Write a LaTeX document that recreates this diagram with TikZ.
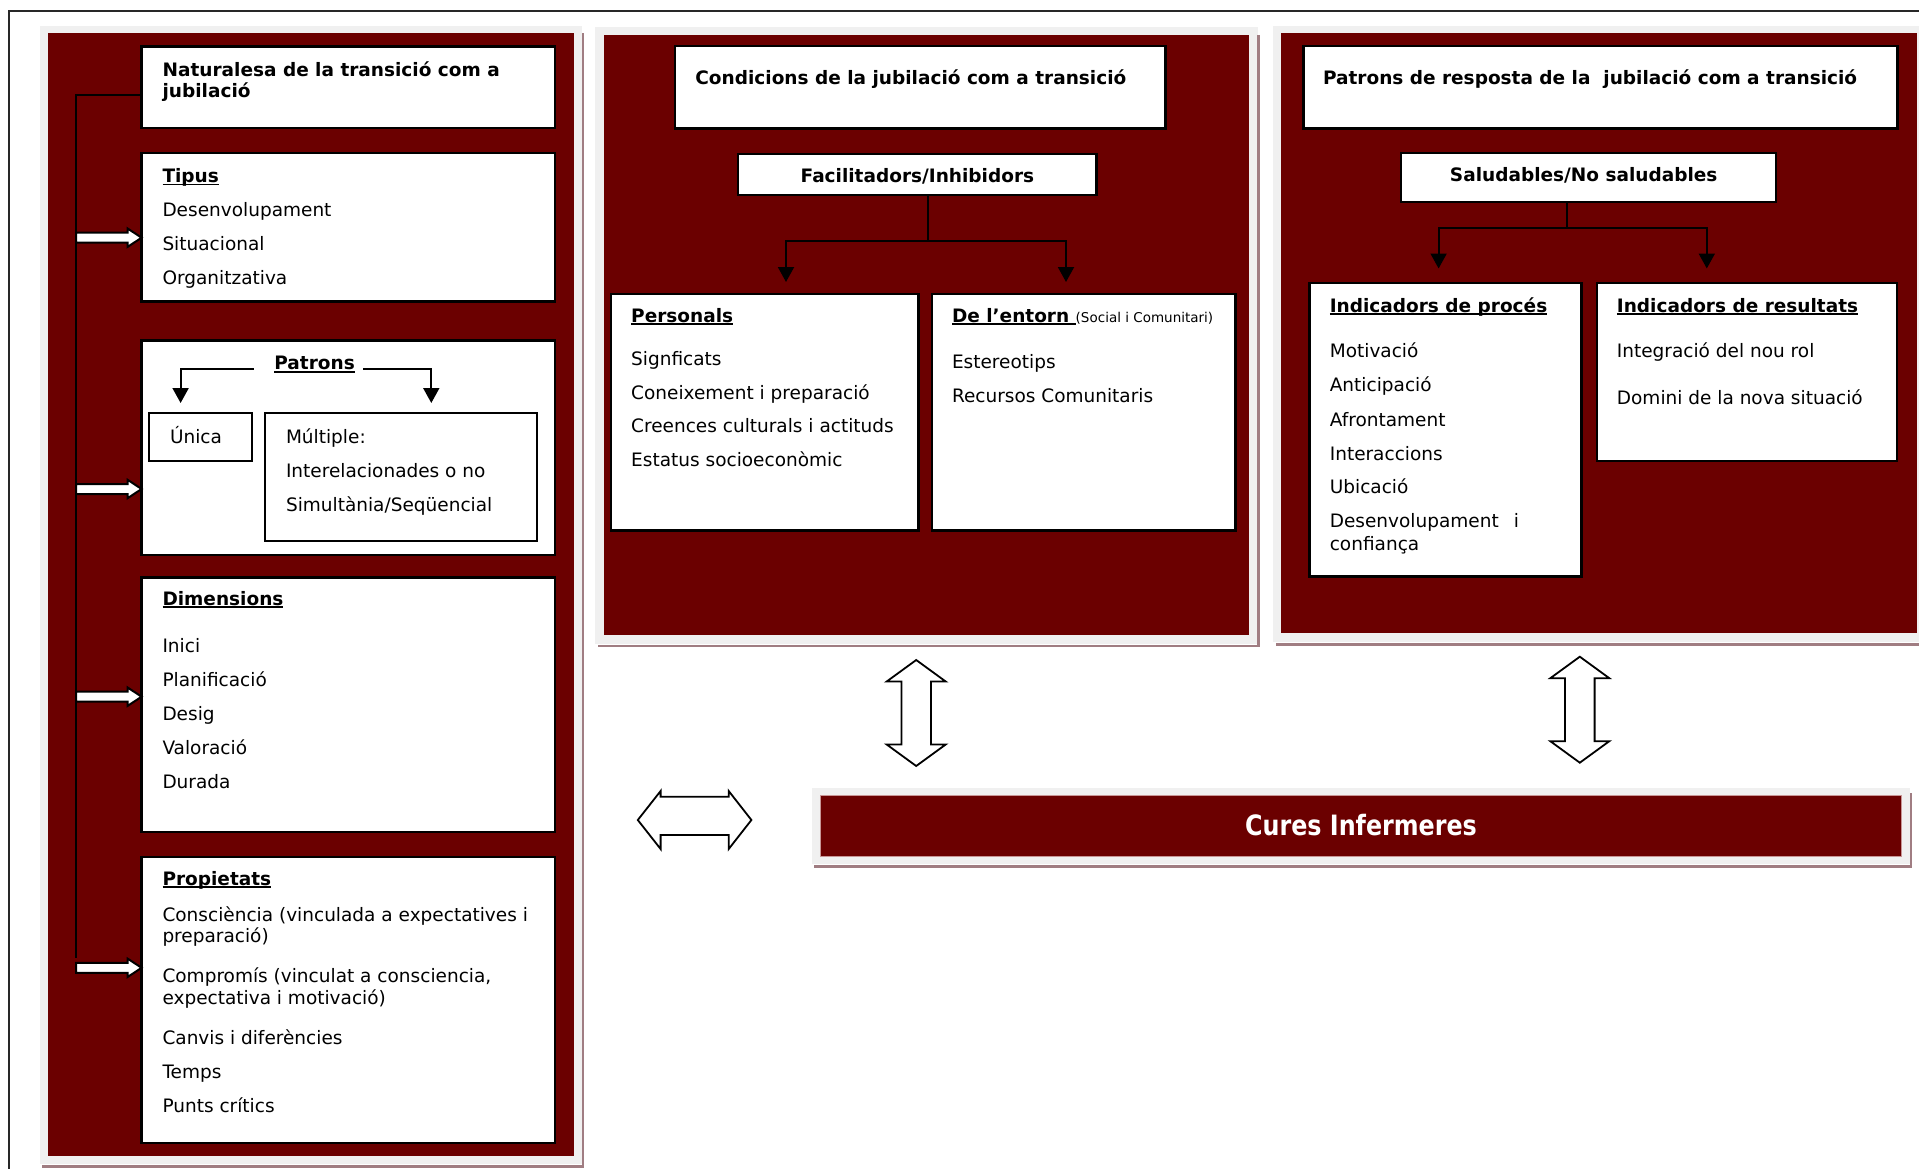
\documentclass[tikz,border=0pt]{standalone}
\usepackage{fontspec}
\setmainfont{DejaVu Sans}
\usetikzlibrary{arrows.meta,calc}
\definecolor{panelred}{RGB}{107,0,0}
\definecolor{panelgray}{RGB}{240,240,240}
\definecolor{shadowc}{RGB}{160,125,130}
\definecolor{framec}{RGB}{40,40,40}
\definecolor{curesedge}{RGB}{200,150,150}
\newsavebox\ulbox
\newcommand\hul[1]{\sbox\ulbox{#1}\rlap{\rule[-3pt]{\wd\ulbox}{1.8pt}}\usebox\ulbox}
\newcommand\hd[1]{\textbf{\hul{#1}}}
\tikzset{
  box/.style={draw=black, fill=white, line width=2.4pt, inner sep=0pt, outer sep=0pt, anchor=north west},
  txt/.style={anchor=base west, inner sep=0pt, outer sep=0pt, font=\fontsize{18.5}{22}\selectfont},
  btxt/.style={txt, font=\fontsize{18.5}{22}\selectfont\bfseries},
  conn/.style={draw=black, line width=2pt},
  arr/.style={conn, -{Triangle[width=16pt,length=15pt]}},
  hollow/.style={draw=black, fill=white, line width=2pt, line join=miter,
    to path={let \p1=(\tikztostart), \p2=(\tikztotarget) in
      (\x1,\y1+5) -- (\x2-14,\y1+5) -- (\x2-14,\y1+9.2) -- (\x2,\y1) --
      (\x2-14,\y1-9.2) -- (\x2-14,\y1-5) -- (\x1,\y1-5) -- cycle}},
  bigarrow/.style={draw=black, fill=white, line width=1.8pt, line join=miter},
  shadowline/.style={draw=shadowc, line width=2.5pt},
}
\begin{document}
\begin{tikzpicture}[x=1pt,y=-1pt]
\useasboundingbox (0,0) rectangle (1919,1169);
% outer frame
\draw[framec, line width=2pt] (1925,11.5) -- (8.5,11.5) -- (8.5,1175);
% panels
\fill[panelgray] (40,26) rectangle (582,1164);
\fill[panelred] (47.5,33.5) rectangle (574,1156);
\draw[shadowline] (42,1166.5) -- (583,1166.5) -- (583,33);
\fill[panelgray] (595,27) rectangle (1257.5,643.5);
\fill[panelred] (603.5,35.5) rectangle (1249.3,635);
\draw[shadowline] (598,646) -- (1258.5,646) -- (1258.5,35);
\fill[panelgray] (1273,26) rectangle (1925,641.7);
\fill[panelred] (1280.5,33.5) rectangle (1916.7,633.3);
\draw[shadowline] (1276,644.5) -- (1925,644.5);

% ---------- left panel ----------
\node[box, minimum width=413.4pt, minimum height=81.3pt] (nat) at (141.6,46.7) {};
\node[btxt] (nat-1) at (162.6,76.5) {Naturalesa de la transició com a};
\node[btxt] (nat-2) at (162.6,97.6) {jubilació};

\node[box, minimum width=413.4pt, minimum height=148.6pt] (tipus) at (141.6,153) {};
\node[txt] (tipus-1) at (162.5,182.5) {\hd{Tipus}};
\node[txt] (tipus-2) at (162.5,216) {Desenvolupament};
\node[txt] (tipus-3) at (162.5,250.3) {Situacional};
\node[txt] (tipus-4) at (162.5,284) {Organitzativa};

\node[box, minimum width=413.4pt, minimum height=214.4pt] (patrons) at (141.6,340.6) {};
\node[txt, anchor=base] (ptitle) at (314.6,369.5) {\hd{Patrons}};
\node[box, line width=2.2pt, minimum width=102.9pt, minimum height=47.7pt] (unica) at (149.3,413.3) {};
\node[txt] (unica-t) at (170,443) {Única};
\node[box, line width=2.2pt, minimum width=272.2pt, minimum height=127.5pt] (mult) at (264.8,413.3) {};
\node[txt] (mult-1) at (286,443) {Múltiple:};
\node[txt] (mult-2) at (286,477.6) {Interelacionades o no};
\node[txt] (mult-3) at (286,511) {Simultània/Seqüencial};
\coordinate (pL) at (180.6,403);
\coordinate (pR) at (431.3,403);
\draw[arr] ($(ptitle.base west)+(-20.7,-1)$) -| (pL);
\draw[arr] ($(ptitle.base east)+(8.5,-1)$) -| (pR);

\node[box, minimum width=413.4pt, minimum height=254.3pt] (dims) at (141.6,577.5) {};
\node[txt] (dims-1) at (162.5,605) {\hd{Dimensions}};
\node[txt] (dims-2) at (162.5,652.4) {Inici};
\node[txt] (dims-3) at (162.5,686.2) {Planificació};
\node[txt] (dims-4) at (162.5,720.4) {Desig};
\node[txt] (dims-5) at (162.5,754.2) {Valoració};
\node[txt] (dims-6) at (162.5,788.3) {Durada};

\node[box, minimum width=413.4pt, minimum height=286pt] (props) at (141.6,857) {};
\node[txt] (props-1) at (162.5,885) {\hd{Propietats}};
\node[txt] (props-2) at (162.5,921) {Consciència (vinculada a expectatives i};
\node[txt] (props-3) at (162.5,942.5) {preparació)};
\node[txt] (props-4) at (162.5,982.5) {Compromís (vinculat a consciencia,};
\node[txt] (props-5) at (162.5,1004.7) {expectativa i motivació)};
\node[txt] (props-6) at (162.5,1044) {Canvis i diferències};
\node[txt] (props-7) at (162.5,1078.4) {Temps};
\node[txt] (props-8) at (162.5,1112) {Punts crítics};

% spine and hollow arrows
\coordinate (sTop) at (76,95);
\coordinate (sBot) at (76,958);
\draw[conn, line width=2.2pt] (nat.west |- sTop) -- (sTop) -- (sBot);
\coordinate (h1) at (76,237.7);
\coordinate (h2) at (76,489);
\coordinate (h3) at (76,696.7);
\coordinate (h4) at (76,967.8);
\draw[hollow] (h1) to (tipus.west |- h1);
\draw[hollow] (h2) to (patrons.west |- h2);
\draw[hollow] (h3) to (dims.west |- h3);
\draw[hollow] (h4) to (props.west |- h4);

% ---------- middle panel ----------
\node[box, minimum width=490.5pt, minimum height=82.1pt] (cond) at (675,46.3) {};
\node[btxt] (cond-t) at (695.4,84.2) {Condicions de la jubilació com a transició};
\node[box, minimum width=358.5pt, minimum height=41.3pt] (facil) at (738,154) {};
\node[btxt, anchor=base] (facil-t) at (917.4,183) {Facilitadors/Inhibidors};
\coordinate (fJ) at (927.8,240.7);
\coordinate (fL) at (786,282);
\coordinate (fR) at (1066,282);
\draw[conn] (fJ |- facil.south) -- (fJ);
\draw[arr] (fJ) -| (fL);
\draw[arr] (fJ) -| (fR);

\node[box, minimum width=307.5pt, minimum height=236.5pt] (pers) at (610.8,293.8) {};
\node[txt] (pers-1) at (631.2,322) {\hd{Personals}};
\node[txt] (pers-2) at (631.2,365.3) {Signficats};
\node[txt] (pers-3) at (631.2,399) {Coneixement i preparació};
\node[txt] (pers-4) at (631.2,432.7) {Creences culturals i actituds};
\node[txt] (pers-5) at (631.2,466) {Estatus socioeconòmic};

\node[box, minimum width=303.6pt, minimum height=236.5pt] (ent) at (931.7,293.8) {};
\node[txt] (ent-1) at (952,322) {\hd{De l’entorn\ }{\fontsize{13.5}{16}\selectfont(Social i Comunitari)}};
\node[txt] (ent-2) at (952,368.3) {Estereotips};
\node[txt] (ent-3) at (952,402) {Recursos Comunitaris};

% ---------- right panel ----------
\node[box, minimum width=594pt, minimum height=82.1pt] (resp) at (1303.3,46.3) {};
\node[btxt] (resp-t) at (1323,84.2) {Patrons de resposta de la~~jubilació com a transició};
\node[box, minimum width=375pt, minimum height=49.2pt] (salud) at (1401.2,152.8) {};
\node[btxt, anchor=base] (salud-t) at (1583.7,181.8) {Saludables/No saludables};
\coordinate (sJ) at (1567.3,228);
\coordinate (sL) at (1438.6,268.5);
\coordinate (sR) at (1706.8,268.5);
\draw[conn] (sJ |- salud.south) -- (sJ);
\draw[arr] (sJ) -| (sL);
\draw[arr] (sJ) -| (sR);

\node[box, minimum width=272pt, minimum height=293.4pt] (proc) at (1309.6,283.2) {};
\node[txt] (proc-1) at (1329.8,312) {\hd{Indicadors de procés}};
\node[txt] (proc-2) at (1329.8,357.7) {Motivació};
\node[txt] (proc-3) at (1329.8,391.4) {Anticipació};
\node[txt] (proc-4) at (1329.8,426) {Afrontament};
\node[txt] (proc-5) at (1329.8,460) {Interaccions};
\node[txt] (proc-6) at (1329.8,493.7) {Ubicació};
\node[txt] (proc-7) at (1329.8,527.4) {Desenvolupament\hspace{15pt}i};
\node[txt] (proc-8) at (1329.8,550.5) {confiança};

\node[box, minimum width=300.3pt, minimum height=177.7pt] (res) at (1596.7,283.2) {};
\node[txt] (res-1) at (1616.9,312) {\hd{Indicadors de resultats}};
\node[txt] (res-2) at (1616.9,357.7) {Integració del nou rol};
\node[txt] (res-3) at (1616.9,404) {Domini de la nova situació};

% ---------- Cures Infermeres ----------
\fill[panelgray] (812,788) rectangle (1910,864);
\draw[shadowline] (814,866.5) -- (1911,866.5) -- (1911,793);
\node[draw=curesedge, line width=1pt, fill=panelred, minimum width=1081.3pt, minimum height=61pt,
      inner sep=0pt, outer sep=0pt, text=white] (cures) at (1361.05,825.5)
      {\fontsize{28}{30}\selectfont\bfseries\scalebox{0.85}[1]{Cures Infermeres}};

% ---------- big double arrows ----------
\draw[bigarrow] (916.2,660) -- (945.7,681.5) -- (930.9,681.5) -- (930.9,744.5) -- (945.7,744.5)
  -- (916.2,766) -- (886.7,744.5) -- (901.5,744.5) -- (901.5,681.5) -- (886.7,681.5) -- cycle;
\draw[bigarrow] (1579.8,656.7) -- (1609.3,678.2) -- (1594.6,678.2) -- (1594.6,741.2) -- (1609.3,741.2)
  -- (1579.8,762.7) -- (1550.3,741.2) -- (1565,741.2) -- (1565,678.2) -- (1550.3,678.2) -- cycle;
\draw[bigarrow] (637.8,820) -- (660.6,791) -- (660.6,796.7) -- (728.7,796.7) -- (728.7,791)
  -- (751.4,820) -- (728.7,849) -- (728.7,835) -- (660.6,835) -- (660.6,849) -- cycle;
\end{tikzpicture}
\end{document}
